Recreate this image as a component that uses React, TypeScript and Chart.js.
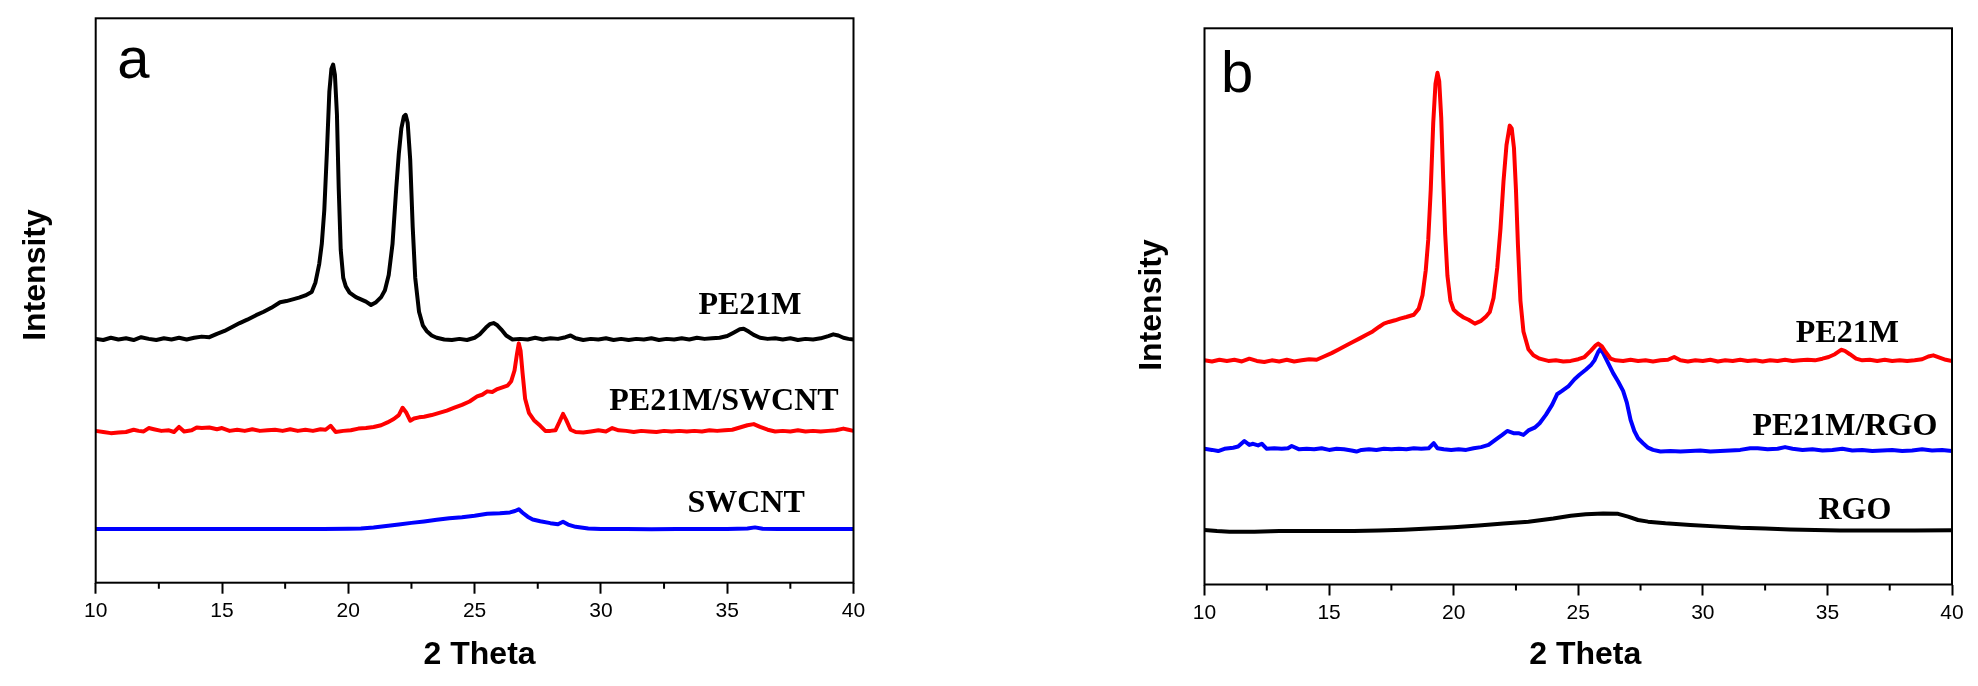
import React, { useEffect, useRef } from 'react';
import { Chart, registerables } from 'chart.js';

Chart.register(...registerables);

// ---- data (2 theta in degrees, intensity in arbitrary units 0-100) ----

const aPE21M_x = [10.0, 10.3, 10.6, 10.9, 11.2, 11.5, 11.8, 12.1, 12.4, 12.7, 13.0, 13.3, 13.6, 13.9, 14.2, 14.5, 14.8, 15.1, 15.4, 15.7, 16.0, 16.35, 16.65, 16.95, 17.3, 17.55, 17.8, 18.05, 18.3, 18.55, 18.7, 18.85, 18.95, 19.05, 19.15, 19.25, 19.33, 19.4, 19.47, 19.55, 19.62, 19.7, 19.8, 19.9, 20.05, 20.3, 20.5, 20.7, 20.9, 21.1, 21.3, 21.45, 21.6, 21.75, 21.9, 22.0, 22.1, 22.2, 22.27, 22.35, 22.45, 22.55, 22.65, 22.8, 22.95, 23.1, 23.3, 23.5, 23.8, 24.1, 24.4, 24.7, 25.0, 25.2, 25.45, 25.6, 25.75, 25.9, 26.05, 26.25, 26.5, 26.8, 27.1, 27.4, 27.7, 28.0, 28.3, 28.6, 28.8, 29.0, 29.3, 29.6, 29.9, 30.2, 30.5, 30.8, 31.1, 31.4, 31.7, 32.0, 32.3, 32.6, 32.9, 33.2, 33.5, 33.8, 34.1, 34.4, 34.7, 35.0, 35.25, 35.5, 35.65, 35.85, 36.05, 36.3, 36.6, 36.9, 37.2, 37.5, 37.8, 38.1, 38.4, 38.7, 39.0, 39.2, 39.4, 39.6, 39.8, 40.0];
const aPE21M_y = [43.2, 43.0, 43.4, 43.1, 43.3, 43.0, 43.5, 43.2, 43.0, 43.3, 43.1, 43.4, 43.1, 43.4, 43.6, 43.5, 44.1, 44.6, 45.3, 46.0, 46.6, 47.4, 48.0, 48.7, 49.7, 49.9, 50.2, 50.5, 50.9, 51.5, 53.2, 56.5, 60.0, 66.0, 76.0, 87.0, 91.0, 91.8, 90.0, 83.0, 70.0, 59.0, 54.0, 52.5, 51.4, 50.6, 50.2, 49.8, 49.2, 49.7, 50.6, 51.8, 54.5, 60.0, 70.0, 76.0, 80.5, 82.6, 82.9, 81.5, 75.0, 63.0, 54.0, 48.0, 45.6, 44.6, 43.8, 43.4, 43.1, 43.0, 43.2, 43.0, 43.4, 44.0, 45.2, 45.8, 46.0, 45.6, 44.9, 43.8, 43.1, 43.2, 43.1, 43.4, 43.1, 43.3, 43.2, 43.5, 43.8, 43.3, 43.0, 43.2, 43.1, 43.3, 43.0, 43.2, 43.0, 43.2, 43.1, 43.3, 43.0, 43.2, 43.1, 43.3, 43.1, 43.4, 43.2, 43.3, 43.4, 43.7, 44.3, 44.9, 45.0, 44.5, 43.9, 43.4, 43.2, 43.3, 43.1, 43.3, 43.0, 43.2, 43.1, 43.3, 43.7, 44.0, 43.8, 43.4, 43.2, 43.1];

const aSWCNTComp_x = [10.0, 10.3, 10.6, 10.9, 11.2, 11.5, 11.7, 11.9, 12.1, 12.3, 12.6, 12.9, 13.1, 13.3, 13.5, 13.8, 14.0, 14.2, 14.5, 14.8, 15.0, 15.3, 15.6, 15.9, 16.2, 16.5, 16.8, 17.1, 17.4, 17.7, 18.0, 18.3, 18.6, 18.9, 19.1, 19.3, 19.5, 19.8, 20.1, 20.4, 20.7, 21.0, 21.3, 21.55, 21.8, 22.0, 22.15, 22.3, 22.45, 22.6, 22.8, 23.0, 23.3, 23.6, 23.9, 24.2, 24.5, 24.8, 25.1, 25.3, 25.5, 25.7, 25.9, 26.1, 26.3, 26.45, 26.58, 26.68, 26.75, 26.82, 26.9, 27.0, 27.15, 27.35, 27.6, 27.8, 28.0, 28.2, 28.35, 28.5, 28.62, 28.8, 29.0, 29.3, 29.6, 29.9, 30.2, 30.45, 30.7, 31.0, 31.3, 31.6, 31.9, 32.2, 32.5, 32.8, 33.1, 33.4, 33.7, 34.0, 34.3, 34.6, 34.9, 35.2, 35.5, 35.8, 36.05, 36.3, 36.6, 36.9, 37.2, 37.5, 37.8, 38.1, 38.4, 38.7, 39.0, 39.3, 39.6, 39.8, 40.0];
const aSWCNTComp_y = [26.9, 26.7, 26.5, 26.6, 26.7, 27.1, 26.9, 26.8, 27.4, 27.2, 26.9, 27.0, 26.7, 27.6, 26.8, 27.0, 27.5, 27.4, 27.5, 27.2, 27.4, 26.9, 27.1, 26.9, 27.2, 26.9, 27.0, 27.1, 26.9, 27.2, 26.9, 27.1, 26.9, 27.2, 27.1, 27.8, 26.7, 26.9, 27.0, 27.3, 27.4, 27.6, 27.9, 28.4, 29.0, 29.7, 31.0, 30.1, 28.7, 29.1, 29.3, 29.4, 29.7, 30.1, 30.5, 31.0, 31.5, 32.1, 33.0, 33.3, 33.9, 33.8, 34.3, 34.6, 34.9, 35.7, 37.6, 40.6, 42.4, 41.1, 37.1, 32.6, 30.1, 28.8, 27.8, 26.9, 26.9, 27.0, 28.4, 29.9, 28.9, 27.1, 26.7, 26.6, 26.8, 27.0, 26.8, 27.4, 27.0, 26.9, 26.7, 26.9, 26.8, 26.7, 26.9, 26.8, 26.9, 26.8, 26.9, 26.8, 27.0, 26.9, 27.0, 27.1, 27.5, 27.9, 28.1, 27.6, 27.1, 26.8, 26.9, 26.8, 27.0, 26.8, 26.9, 26.8, 26.9, 27.0, 27.3, 27.1, 26.9];

const aSWCNT_x = [10.0, 11.0, 12.0, 13.0, 14.0, 15.0, 16.0, 17.0, 18.0, 19.0, 20.0, 20.5, 21.0, 21.5, 22.0, 22.5, 23.0, 23.5, 24.0, 24.5, 25.0, 25.5, 26.0, 26.4, 26.6, 26.75, 26.9, 27.1, 27.3, 27.6, 28.0, 28.3, 28.5, 28.7, 29.0, 29.5, 30.0, 31.0, 32.0, 33.0, 34.0, 35.0, 35.8, 36.1, 36.4, 37.0, 38.0, 39.0, 40.0];
const aSWCNT_y = [9.5, 9.5, 9.5, 9.5, 9.5, 9.5, 9.5, 9.5, 9.5, 9.5, 9.55, 9.6, 9.8, 10.05, 10.3, 10.6, 10.85, 11.15, 11.4, 11.6, 11.85, 12.2, 12.3, 12.45, 12.7, 13.0, 12.4, 11.7, 11.2, 10.9, 10.55, 10.35, 10.8, 10.3, 9.9, 9.6, 9.5, 9.5, 9.45, 9.5, 9.5, 9.5, 9.6, 9.8, 9.55, 9.5, 9.5, 9.5, 9.5];

const bPE21M_x = [10.0, 10.3, 10.6, 10.9, 11.2, 11.5, 11.8, 12.1, 12.4, 12.7, 13.0, 13.3, 13.6, 13.9, 14.2, 14.5, 14.75, 15.1, 15.4, 15.7, 15.95, 16.25, 16.5, 16.75, 17.0, 17.2, 17.4, 17.65, 17.85, 18.1, 18.4, 18.6, 18.75, 18.88, 18.98, 19.08, 19.18, 19.27, 19.35, 19.42, 19.5, 19.58, 19.66, 19.75, 19.87, 20.0, 20.2, 20.4, 20.6, 20.85, 21.1, 21.3, 21.45, 21.6, 21.75, 21.88, 22.0, 22.12, 22.25, 22.33, 22.42, 22.5, 22.58, 22.68, 22.8, 23.0, 23.2, 23.45, 23.8, 24.1, 24.4, 24.7, 25.0, 25.25, 25.5, 25.7, 25.8, 25.95, 26.1, 26.3, 26.5, 26.8, 27.1, 27.4, 27.7, 28.0, 28.3, 28.6, 28.85, 29.1, 29.4, 29.7, 30.0, 30.3, 30.6, 30.9, 31.2, 31.5, 31.8, 32.1, 32.4, 32.7, 33.0, 33.3, 33.6, 33.9, 34.2, 34.5, 34.8, 35.05, 35.3, 35.55, 35.7, 35.9, 36.15, 36.4, 36.7, 37.0, 37.3, 37.6, 37.9, 38.2, 38.5, 38.8, 39.05, 39.25, 39.5, 39.75, 40.0];
const bPE21M_y = [40.3, 40.1, 40.4, 40.2, 40.4, 40.1, 40.6, 40.2, 40.0, 40.3, 40.1, 40.4, 40.1, 40.3, 40.5, 40.4, 40.9, 41.6, 42.3, 43.0, 43.6, 44.3, 44.9, 45.5, 46.3, 46.9, 47.2, 47.5, 47.8, 48.1, 48.5, 49.6, 52.0, 56.5, 62.0, 71.0, 83.0, 90.0, 92.0, 90.5, 84.0, 73.0, 63.0, 55.5, 51.0, 49.4, 48.6, 48.0, 47.6, 46.9, 47.4, 48.2, 49.0, 51.5, 57.0, 64.0, 72.5, 79.0, 82.5, 82.0, 78.5, 71.0, 61.0, 51.0, 45.5, 42.3, 41.2, 40.6, 40.2, 40.3, 40.1, 40.2, 40.5, 40.9, 42.0, 43.0, 43.3, 42.8, 41.8, 40.6, 40.3, 40.2, 40.4, 40.2, 40.3, 40.1, 40.3, 40.4, 40.9, 40.3, 40.1, 40.3, 40.2, 40.4, 40.1, 40.3, 40.2, 40.4, 40.2, 40.3, 40.1, 40.3, 40.2, 40.4, 40.2, 40.3, 40.4, 40.3, 40.6, 40.9, 41.4, 42.2, 42.0, 41.4, 40.6, 40.3, 40.4, 40.2, 40.4, 40.2, 40.3, 40.2, 40.3, 40.5, 41.0, 41.2, 40.8, 40.4, 40.2];

const bRGOComp_x = [10.0, 10.3, 10.55, 10.8, 11.15, 11.35, 11.6, 11.8, 11.95, 12.15, 12.3, 12.5, 12.8, 13.1, 13.35, 13.5, 13.8, 14.1, 14.4, 14.7, 15.0, 15.3, 15.6, 15.9, 16.1, 16.3, 16.6, 16.9, 17.2, 17.5, 17.8, 18.1, 18.4, 18.7, 19.0, 19.2, 19.35, 19.6, 19.9, 20.2, 20.5, 20.8, 21.1, 21.4, 21.7, 21.95, 22.15, 22.4, 22.6, 22.8, 23.0, 23.25, 23.45, 23.7, 23.95, 24.15, 24.35, 24.6, 24.85, 25.05, 25.3, 25.5, 25.65, 25.8, 25.88, 26.0, 26.2, 26.4, 26.6, 26.8, 26.95, 27.1, 27.25, 27.4, 27.6, 27.8, 28.0, 28.3, 28.7, 29.1, 29.5, 29.9, 30.3, 30.7, 31.1, 31.5, 31.9, 32.2, 32.6, 33.0, 33.3, 33.6, 34.0, 34.4, 34.8, 35.2, 35.6, 36.0, 36.4, 36.8, 37.2, 37.6, 38.0, 38.4, 38.8, 39.2, 39.6, 40.0];
const bRGOComp_y = [24.4, 24.2, 24.0, 24.4, 24.6, 24.8, 25.8, 25.1, 25.3, 25.0, 25.3, 24.4, 24.5, 24.4, 24.5, 24.9, 24.3, 24.4, 24.3, 24.5, 24.2, 24.4, 24.3, 24.1, 23.9, 24.2, 24.3, 24.2, 24.4, 24.3, 24.4, 24.3, 24.5, 24.4, 24.5, 25.4, 24.5, 24.3, 24.2, 24.3, 24.2, 24.5, 24.7, 25.1, 26.1, 26.9, 27.6, 27.2, 27.2, 26.9, 27.7, 28.2, 29.0, 30.5, 32.3, 34.2, 34.8, 35.6, 36.9, 37.7, 38.6, 39.4, 40.3, 41.8, 42.3, 41.6, 39.8, 38.0, 36.5, 34.8, 32.7, 29.6, 27.6, 26.3, 25.4, 24.6, 24.2, 23.9, 24.0, 23.9, 24.0, 24.1, 23.9, 24.0, 24.1, 24.2, 24.5, 24.5, 24.3, 24.4, 24.7, 24.4, 24.2, 24.3, 24.1, 24.2, 24.4, 24.1, 24.2, 24.0, 24.1, 24.2, 24.0, 24.1, 24.3, 24.1, 24.2, 24.0];

const bRGO_x = [10.0, 10.5, 11.0, 12.0, 13.0, 14.0, 15.0, 16.0, 17.0, 18.0, 19.0, 20.0, 21.0, 22.0, 23.0, 24.0, 24.7, 25.3, 26.0, 26.6, 27.0, 27.4, 27.8, 28.5, 29.5, 30.5, 31.5, 32.5, 33.5, 34.5, 35.5, 37.0, 38.5, 40.0];
const bRGO_y = [9.8, 9.6, 9.5, 9.5, 9.6, 9.6, 9.6, 9.6, 9.7, 9.85, 10.05, 10.3, 10.6, 10.95, 11.3, 11.85, 12.35, 12.65, 12.75, 12.7, 12.2, 11.6, 11.3, 11.0, 10.7, 10.45, 10.2, 10.05, 9.9, 9.8, 9.7, 9.7, 9.7, 9.75];

const thetaTicks = { min: 10, max: 40, step: 5 };
const panelALabels = ['PE21M', 'PE21M/SWCNT', 'SWCNT'];
const panelBLabels = ['PE21M', 'PE21M/RGO', 'RGO'];

// ---- layout (pixels) ----
const W = 1978;
const H = 686;

type Series = { label: string; xs: number[]; ys: number[]; color: string };
type Anchor = { text: string; x: number; y: number };

type PanelProps = {
  left: number;
  width: number;
  pad: { left: number; right: number; top: number };
  axisBottom: number;
  letter: string;
  letterDx: number;
  letterDy: number;
  yTitleX: number;
  yTitleY: number;
  xTitleDx: number;
  series: Series[];
  labels: Anchor[];
};

function makeDecor(p: PanelProps) {
  return {
    id: 'decor',
    afterDraw(chart: Chart) {
      const { ctx, chartArea: ca } = chart;
      const xs = chart.scales.x;
      const ys = chart.scales.y;
      ctx.save();
      ctx.strokeStyle = '#000';
      ctx.lineWidth = 2;
      ctx.strokeRect(ca.left, ca.top, ca.right - ca.left, ca.bottom - ca.top);

      // minor ticks half way between the majors
      const t = xs.ticks;
      ctx.beginPath();
      for (let i = 0; i < t.length - 1; i++) {
        const px = xs.getPixelForValue((t[i].value + t[i + 1].value) / 2);
        ctx.moveTo(px, ca.bottom);
        ctx.lineTo(px, ca.bottom + 6);
      }
      ctx.stroke();

      ctx.fillStyle = '#000';
      ctx.font = 'bold 32px "Liberation Serif", "Times New Roman", serif';
      ctx.textAlign = 'center';
      ctx.textBaseline = 'middle';
      p.labels.forEach((l) => ctx.fillText(l.text, xs.getPixelForValue(l.x), ys.getPixelForValue(l.y)));

      ctx.font = '58px "Liberation Sans", Arial, sans-serif';
      ctx.textAlign = 'left';
      ctx.textBaseline = 'alphabetic';
      ctx.fillText(p.letter, ca.left + p.letterDx, ca.top + p.letterDy);

      ctx.font = 'bold 32px "Liberation Sans", Arial, sans-serif';
      ctx.textAlign = 'center';
      ctx.textBaseline = 'middle';
      ctx.fillText('2 Theta', (ca.left + ca.right) / 2 + p.xTitleDx, 655);

      ctx.translate(p.yTitleX - p.left, p.yTitleY);
      ctx.rotate(-Math.PI / 2);
      ctx.fillText('Intensity', 0, 0);
      ctx.restore();
    },
  };
}

const Panel = (p: PanelProps) => {
  const canvasRef = useRef<HTMLCanvasElement>(null);
  const chartRef = useRef<Chart | null>(null);

  useEffect(() => {
    const ctx = canvasRef.current?.getContext('2d');
    if (!ctx) return;
    if (chartRef.current) chartRef.current.destroy();

    chartRef.current = new Chart(ctx, {
      type: 'line',
      data: {
        datasets: p.series.map((s) => ({
          label: s.label,
          data: s.xs.map((x, i) => ({ x, y: s.ys[i] })),
          borderColor: s.color,
          backgroundColor: 'transparent',
          borderWidth: 4,
          pointRadius: 0,
          tension: 0,
          borderJoinStyle: 'round' as const,
          borderCapStyle: 'round' as const,
        })),
      },
      options: {
        responsive: false,
        animation: false,
        layout: { padding: { left: p.pad.left, right: p.pad.right, top: p.pad.top, bottom: 0 } },
        plugins: { legend: { display: false }, tooltip: { enabled: false } },
        scales: {
          x: {
            type: 'linear',
            min: thetaTicks.min,
            max: thetaTicks.max,
            border: { display: false },
            grid: { display: true, drawOnChartArea: false, drawTicks: true, tickLength: 11, tickColor: '#000', tickWidth: 2 },
            ticks: {
              stepSize: thetaTicks.step,
              color: '#000',
              padding: 5,
              maxRotation: 0,
              font: { family: '"Liberation Sans", Arial, sans-serif', size: 21 },
            },
            afterFit: (scale: any) => {
              scale.height = H - p.axisBottom;
              scale.paddingLeft = 0;
              scale.paddingRight = 0;
            },
          },
          y: {
            type: 'linear',
            display: false,
            min: 0,
            max: 100,
          },
        },
      },
      plugins: [makeDecor(p)],
    });

    return () => {
      chartRef.current?.destroy();
      chartRef.current = null;
    };
  }, []);

  return (
    <div style={{ position: 'absolute', left: p.left, top: 0, width: p.width, height: H }}>
      <canvas ref={canvasRef} width={p.width} height={H} style={{ width: p.width, height: H, display: 'block' }} />
    </div>
  );
};

export default function App() {
  const seriesA: Series[] = [
    { label: panelALabels[0], xs: aPE21M_x, ys: aPE21M_y, color: '#000000' },
    { label: panelALabels[1], xs: aSWCNTComp_x, ys: aSWCNTComp_y, color: '#ff0000' },
    { label: panelALabels[2], xs: aSWCNT_x, ys: aSWCNT_y, color: '#0000ff' },
  ];
  const seriesB: Series[] = [
    { label: panelBLabels[0], xs: bPE21M_x, ys: bPE21M_y, color: '#ff0000' },
    { label: panelBLabels[1], xs: bRGOComp_x, ys: bRGOComp_y, color: '#0000ff' },
    { label: panelBLabels[2], xs: bRGO_x, ys: bRGO_y, color: '#000000' },
  ];
  const labelsA: Anchor[] = [
    { text: panelALabels[0], x: 35.9, y: 49.1 },
    { text: panelALabels[1], x: 34.87, y: 32.0 },
    { text: panelALabels[2], x: 35.75, y: 14.0 },
  ];
  const labelsB: Anchor[] = [
    { text: panelBLabels[0], x: 35.8, y: 45.1 },
    { text: panelBLabels[1], x: 35.7, y: 28.4 },
    { text: panelBLabels[2], x: 36.1, y: 13.3 },
  ];

  return (
    <div style={{ position: 'absolute', left: 0, top: 0, width: W, height: H, background: '#fff', overflow: 'hidden' }}>
      <Panel
        left={0}
        width={980}
        pad={{ left: 95.7, right: 980 - 853.5, top: 18.3 }}
        axisBottom={582.7}
        letter="a"
        letterDx={21.5}
        letterDy={60}
        yTitleX={36}
        yTitleY={275}
        xTitleDx={5}
        series={seriesA}
        labels={labelsA}
      />
      <Panel
        left={980}
        width={998}
        pad={{ left: 1204.5 - 980, right: W - 1952, top: 28.3 }}
        axisBottom={584.5}
        letter="b"
        letterDx={16.5}
        letterDy={63.4}
        yTitleX={1152}
        yTitleY={305}
        xTitleDx={7}
        series={seriesB}
        labels={labelsB}
      />
    </div>
  );
}
